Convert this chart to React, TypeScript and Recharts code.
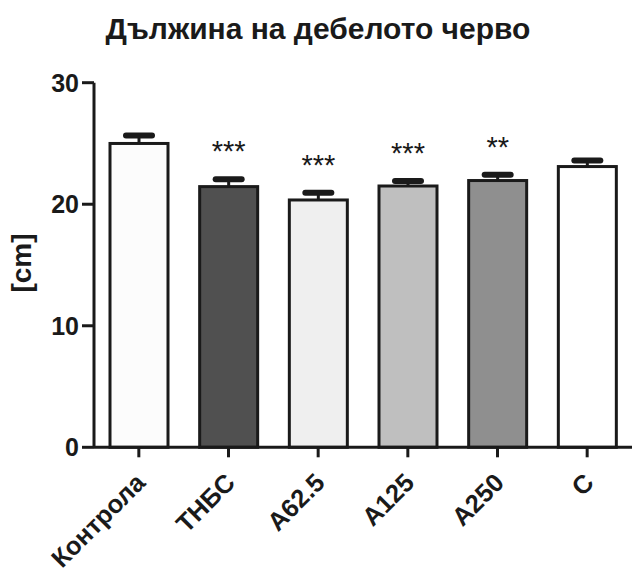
import React from 'react';
import { BarChart, Bar, XAxis, YAxis, Cell } from 'recharts';

const categories = ['Контрола', 'ТНБС', 'A62.5', 'A125', 'A250', 'C'];
const means = [25.0, 21.45, 20.35, 21.5, 21.95, 23.1];
const sems = [0.65, 0.6, 0.6, 0.42, 0.47, 0.5];
const stars = ['', '***', '***', '***', '**', ''];
const fills = ['#fcfcfc', '#505050', '#efefef', '#bfbfbf', '#8f8f8f', '#ffffff'];
const yTicks = [0, 10, 20, 30];

const title = 'Дължина на дебелото черво';
const yLabel = '[cm]';

const data = categories.map((c, i) => ({ name: c, value: means[i], sem: sems[i], stars: stars[i] }));

const FONT = '"Liberation Sans", Arial, Helvetica, sans-serif';
const INK = '#1a1a1a';

const BarShape = (props: any) => {
  const { x, y, width, height, fill, payload } = props;
  const cx = x + width / 2;
  const pxPerUnit = height / payload.value;
  const capY = y - payload.sem * pxPerUnit;
  return (
    <g>
      <rect x={x} y={y} width={width} height={height} fill={fill} stroke={INK} strokeWidth={3} />
      <line x1={cx} x2={cx} y1={y} y2={capY} stroke={INK} strokeWidth={3} />
      <line x1={cx - 13} x2={cx + 13} y1={capY} y2={capY} stroke={INK} strokeWidth={6} strokeLinecap="round" />
      {payload.stars ? (
        <text x={cx} y={capY - 18} textAnchor="middle" fontFamily={FONT} fontSize={29} fill={INK}>
          {payload.stars}
        </text>
      ) : null}
    </g>
  );
};

const XTick = (props: any) => {
  const { x, y, payload } = props;
  const ax = x + 8;
  const ay = y + 25;
  return (
    <g transform={`translate(${ax},${ay})`}>
      <text
        x={0}
        y={0}
        textAnchor="end"
        transform="rotate(-45)"
        fontFamily={FONT}
        fontWeight="bold"
        fontSize={25.5}
        fill={INK}
      >
        {payload.value}
      </text>
    </g>
  );
};

export default function App() {
  return (
    <div style={{ position: 'absolute', left: 0, top: 0, width: 632, height: 574, background: '#fff' }}>
      <BarChart
        width={632}
        height={574}
        data={data}
        margin={{ top: 82.7, right: 0, bottom: 66.7, left: 14 }}
      >
        <XAxis
          dataKey="name"
          height={60}
          interval={0}
          tick={<XTick />}
          tickSize={10}
          axisLine={{ stroke: INK, strokeWidth: 3 }}
          tickLine={{ stroke: INK, strokeWidth: 3 }}
          label={{
            content: () => (
              <text x={318} y={39} textAnchor="middle" fontFamily={FONT} fontWeight="bold" fontSize={30} fill={INK}>
                {title}
              </text>
            ),
          }}
        />
        <YAxis
          width={80}
          domain={[0, 30]}
          ticks={yTicks}
          interval={0}
          tickSize={12}
          tickMargin={3}
          axisLine={{ stroke: INK, strokeWidth: 3 }}
          tickLine={{ stroke: INK, strokeWidth: 3 }}
          tick={{ fontFamily: FONT, fontWeight: 'bold', fontSize: 25, fill: INK }}
          label={{
            content: () => (
              <text
                x={21}
                y={263}
                textAnchor="middle"
                dominantBaseline="central"
                transform="rotate(-90 21 263)"
                fontFamily={FONT}
                fontWeight="bold"
                fontSize={28}
                fill={INK}
              >
                {yLabel}
              </text>
            ),
          }}
        />
        <Bar dataKey="value" barSize={58} isAnimationActive={false} shape={<BarShape />}>
          {data.map((d, i) => (
            <Cell key={d.name} fill={fills[i]} />
          ))}
        </Bar>
      </BarChart>
    </div>
  );
}
